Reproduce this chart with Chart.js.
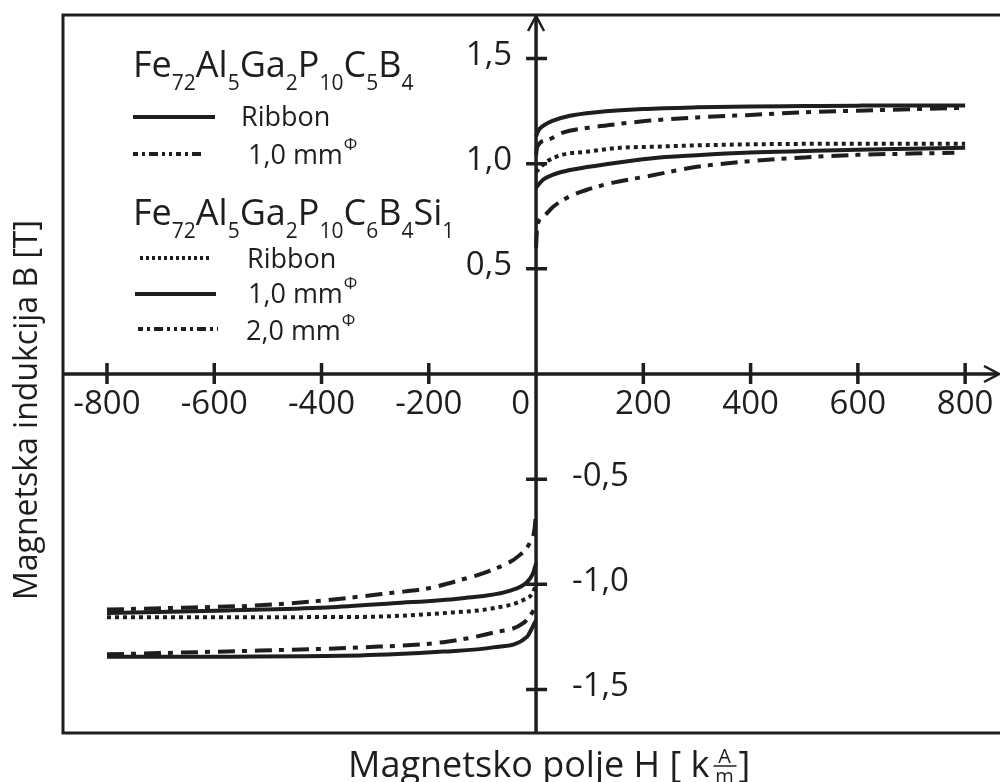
<!DOCTYPE html>
<html>
<head>
<meta charset="utf-8">
<script src="https://cdn.jsdelivr.net/npm/chart.js@4/dist/chart.umd.min.js"></script>
<style>
  html, body { margin: 0; padding: 0; background: #fff; }
  #wrap { width: 1000px; height: 782px; }
</style>
</head>
<body>
<div id="wrap"><canvas id="bh" width="1000" height="782"></canvas></div>
<script>
// tick values and labels (decimal comma as in the original)
const H_TICKS = [-800, -600, -400, -200, 0, 200, 400, 600, 800];
const H_TICK_LABELS = ['-800', '-600', '-400', '-200', '0', '200', '400', '600', '800'];
const B_TICKS = [1.5, 1.0, 0.5, -0.5, -1.0, -1.5];
const B_TICK_LABELS = ['1,5', '1,0', '0,5', '-0,5', '-1,0', '-1,5'];

// Fe72Al5Ga2P10C5B4 - ribbon (solid)
const a1RibbonPosH = [0, 5, 13, 32, 63, 113, 200, 300, 400, 500, 600, 700, 800];
const a1RibbonPosB = [1.13, 1.16, 1.18, 1.205, 1.228, 1.245, 1.26, 1.268, 1.272, 1.274, 1.276, 1.277, 1.277];
const a1RibbonNegH = [-800, -328, -173, -80, -17, -6, 0];
const a1RibbonNegB = [-1.345, -1.338, -1.32, -1.3, -1.25, -1.2, -1.17];

// Fe72Al5Ga2P10C5B4 - 1,0 mm (dash-dot)
const a1Rod1PosH = [0, 2, 22, 50, 95, 157, 213, 300, 400, 500, 600, 700, 800];
const a1Rod1PosB = [1.04, 1.08, 1.114, 1.148, 1.17, 1.19, 1.205, 1.22, 1.232, 1.244, 1.252, 1.259, 1.266];
const a1Rod1NegH = [-800, -515, -328, -173, -80, -24, -6, 0];
const a1Rod1NegB = [-1.333, -1.315, -1.3, -1.275, -1.23, -1.185, -1.13, -1.1];

// Fe72Al5Ga2P10C6B4Si1 - ribbon (dotted)
const a2RibbonPosH = [0, 7, 20, 50, 95, 157, 213, 300, 400, 600, 800];
const a2RibbonPosB = [0.96, 0.98, 1.01, 1.043, 1.057, 1.076, 1.08, 1.087, 1.092, 1.095, 1.095];
const a2RibbonNegH = [-800, -328, -173, -80, -24, -6, 0];
const a2RibbonNegB = [-1.157, -1.155, -1.137, -1.114, -1.075, -1.04, -1.0];

// Fe72Al5Ga2P10C6B4Si1 - 1,0 mm (solid)
const a2Rod1PosH = [0, 13, 32, 63, 125, 213, 300, 400, 500, 600, 700, 800];
const a2Rod1PosB = [0.886, 0.924, 0.948, 0.97, 0.995, 1.025, 1.04, 1.053, 1.06, 1.066, 1.071, 1.076];
const a2Rod1NegH = [-800, -576, -390, -267, -142, -48, -17, -6, 0];
const a2Rod1NegB = [-1.137, -1.124, -1.11, -1.09, -1.067, -1.03, -0.99, -0.95, -0.9];

// Fe72Al5Ga2P10C6B4Si1 - 2,0 mm (dash-dot)
const a2Rod2PosH = [0, 2, 13, 32, 63, 95, 144, 207, 300, 400, 500, 600, 700, 780];
const a2Rod2PosB = [0.6, 0.7, 0.748, 0.795, 0.845, 0.876, 0.91, 0.94, 0.985, 1.012, 1.03, 1.042, 1.048, 1.052];
const a2Rod2NegH = [-800, -640, -515, -390, -267, -203, -142, -80, -30, -11, -3, 0];
const a2Rod2NegB = [-1.12, -1.11, -1.1, -1.075, -1.04, -1.02, -0.98, -0.93, -0.86, -0.8, -0.74, -0.66];

const INK = '#1e1e1e';
const FONT = '"Open Sans", "Noto Sans", sans-serif';
const SOLID = [];
const DOTTED = [4, 4];
const DASHDOT = [17, 7, 5, 8];
const LEGEND_DASHDOT = [5, 4, 3, 4, 9, 4, 3, 4, 3, 4];

function pts(hs, bs) {
  return hs.map((h, i) => ({ x: h, y: bs[i] }));
}

function curve(hs, bs, dash) {
  return {
    data: pts(hs, bs),
    borderColor: INK,
    borderWidth: 4,
    borderDash: dash,
    borderCapStyle: 'butt',
    pointRadius: 0,
    showLine: true,
    fill: false,
    cubicInterpolationMode: 'monotone'
  };
}

const datasets = [
  curve(a1RibbonPosH, a1RibbonPosB, SOLID),
  curve(a1RibbonNegH, a1RibbonNegB, SOLID),
  curve(a1Rod1PosH, a1Rod1PosB, DASHDOT),
  curve(a1Rod1NegH, a1Rod1NegB, DASHDOT),
  curve(a2RibbonPosH, a2RibbonPosB, DOTTED),
  curve(a2RibbonNegH, a2RibbonNegB, DOTTED),
  curve(a2Rod1PosH, a2Rod1PosB, SOLID),
  curve(a2Rod1NegH, a2Rod1NegB, SOLID),
  curve(a2Rod2PosH, a2Rod2PosB, DASHDOT),
  curve(a2Rod2NegH, a2Rod2NegB, DASHDOT)
];

// formula pieces: [element, subscript]
const FORMULA_1 = [['Fe', '72'], ['Al', '5'], ['Ga', '2'], ['P', '10'], ['C', '5'], ['B', '4']];
const FORMULA_2 = [['Fe', '72'], ['Al', '5'], ['Ga', '2'], ['P', '10'], ['C', '6'], ['B', '4'], ['Si', '1']];

function drawFormula(ctx, parts, x, base) {
  let cx = x;
  ctx.textAlign = 'left';
  ctx.textBaseline = 'alphabetic';
  parts.forEach(([el, sub]) => {
    ctx.font = '36px ' + FONT;
    ctx.fillText(el, cx, base);
    cx += ctx.measureText(el).width;
    ctx.font = '21px ' + FONT;
    ctx.fillText(sub, cx, base + 13);
    cx += ctx.measureText(sub).width;
  });
}

function legendLine(ctx, x1, x2, y, dash) {
  ctx.save();
  ctx.setLineDash(dash);
  ctx.lineWidth = 4;
  ctx.beginPath();
  ctx.moveTo(x1, y);
  ctx.lineTo(x2, y);
  ctx.stroke();
  ctx.restore();
}

function legendText(ctx, txt, x, base, phi) {
  ctx.font = '27px ' + FONT;
  ctx.textAlign = 'left';
  ctx.textBaseline = 'alphabetic';
  ctx.fillText(txt, x, base);
  if (phi) {
    const w = ctx.measureText(txt).width;
    ctx.font = '17px ' + FONT;
    ctx.fillText('\u03A6', x + w + 1, base - 14);
  }
}

const decorations = {
  id: 'decorations',
  afterDatasetsDraw(chart) {
    const { ctx, chartArea: a, scales: { x, y } } = chart;
    const x0 = x.getPixelForValue(0);
    const y0 = y.getPixelForValue(0);
    ctx.save();
    ctx.strokeStyle = INK;
    ctx.fillStyle = INK;
    ctx.setLineDash([]);

    // frame (right side runs off the picture)
    ctx.lineWidth = 3;
    ctx.beginPath();
    ctx.moveTo(a.right + 5, a.top);
    ctx.lineTo(a.left, a.top);
    ctx.lineTo(a.left, a.bottom);
    ctx.lineTo(a.right + 5, a.bottom);
    ctx.stroke();

    // axes through the origin
    ctx.lineWidth = 3.5;
    ctx.beginPath();
    ctx.moveTo(a.left, y0);
    ctx.lineTo(a.right - 2, y0);
    ctx.moveTo(x0, a.bottom);
    ctx.lineTo(x0, a.top + 1);
    ctx.stroke();
    // arrow heads
    ctx.lineWidth = 2.5;
    ctx.beginPath();
    ctx.moveTo(x0 - 8, a.top + 16);
    ctx.lineTo(x0, a.top + 1);
    ctx.lineTo(x0 + 8, a.top + 16);
    ctx.moveTo(a.right - 16, y0 - 8);
    ctx.lineTo(a.right - 1, y0);
    ctx.lineTo(a.right - 16, y0 + 8);
    ctx.stroke();

    // ticks
    ctx.lineWidth = 3.5;
    ctx.beginPath();
    H_TICKS.forEach(v => {
      if (v === 0) return;
      const px = x.getPixelForValue(v);
      ctx.moveTo(px, y0 - 11);
      ctx.lineTo(px, y0 + 10);
    });
    B_TICKS.forEach(v => {
      const py = y.getPixelForValue(v);
      ctx.moveTo(x0 - 10, py);
      ctx.lineTo(x0 + 11, py);
    });
    ctx.stroke();

    // tick labels
    ctx.font = '33px ' + FONT;
    ctx.textBaseline = 'middle';
    H_TICKS.forEach((v, i) => {
      const px = x.getPixelForValue(v);
      if (v === 0) {
        ctx.textAlign = 'right';
        ctx.fillText(H_TICK_LABELS[i], px - 6, y0 + 31);
      } else {
        ctx.textAlign = 'center';
        ctx.fillText(H_TICK_LABELS[i], px, y0 + 31);
      }
    });
    B_TICKS.forEach((v, i) => {
      const py = y.getPixelForValue(v);
      if (v > 0) {
        ctx.textAlign = 'right';
        ctx.fillText(B_TICK_LABELS[i], x0 - 24, py - 3);
      } else {
        ctx.textAlign = 'left';
        ctx.fillText(B_TICK_LABELS[i], x0 + 36, py - 3);
      }
    });

    // axis titles
    ctx.font = '32px ' + FONT;
    ctx.textAlign = 'center';
    ctx.textBaseline = 'alphabetic';
    ctx.save();
    ctx.translate(37, 410);
    ctx.rotate(-Math.PI / 2);
    ctx.fillText('Magnetska indukcija B [T]', 0, 0);
    ctx.restore();

    ctx.font = '36px ' + FONT;
    ctx.textAlign = 'left';
    const t1 = 'Magnetsko polje H [ k';
    const tw = ctx.measureText(t1).width;
    const tx = 348;
    const tb = 777;
    ctx.fillText(t1, tx, tb);
    const fx = tx + tw + 3;
    ctx.font = '20px ' + FONT;
    ctx.textAlign = 'center';
    ctx.fillText('A', fx + 12, tb - 14);
    ctx.fillText('m', fx + 12, tb + 6);
    ctx.lineWidth = 1.5;
    ctx.beginPath();
    ctx.moveTo(fx + 1, tb - 11);
    ctx.lineTo(fx + 24, tb - 11);
    ctx.stroke();
    ctx.font = '36px ' + FONT;
    ctx.textAlign = 'left';
    ctx.fillText(']', fx + 26, tb);

    // legend
    drawFormula(ctx, FORMULA_1, 133, 77);
    legendLine(ctx, 133, 215, 117, SOLID);
    legendText(ctx, 'Ribbon', 241, 126, false);
    legendLine(ctx, 133, 205, 154, LEGEND_DASHDOT);
    legendText(ctx, '1,0 mm', 248, 164, true);
    drawFormula(ctx, FORMULA_2, 133, 225);
    legendLine(ctx, 140, 211, 258, [3, 3]);
    legendText(ctx, 'Ribbon', 247, 268, false);
    legendLine(ctx, 135, 216, 294, SOLID);
    legendText(ctx, '1,0 mm', 248, 303, true);
    legendLine(ctx, 138, 218, 329, LEGEND_DASHDOT);
    legendText(ctx, '2,0 mm', 246, 340, true);

    ctx.restore();
  }
};

new Chart(document.getElementById('bh'), {
  type: 'scatter',
  data: { datasets: datasets },
  options: {
    responsive: false,
    animation: false,
    devicePixelRatio: 1,
    layout: { padding: { left: 63, right: 0, top: 15, bottom: 49 } },
    plugins: { legend: { display: false }, tooltip: { enabled: false } },
    scales: {
      x: { type: 'linear', min: -882, max: 865, display: false },
      y: { type: 'linear', min: -1.707, max: 1.707, display: false }
    }
  },
  plugins: [decorations]
});
</script>
</body>
</html>
